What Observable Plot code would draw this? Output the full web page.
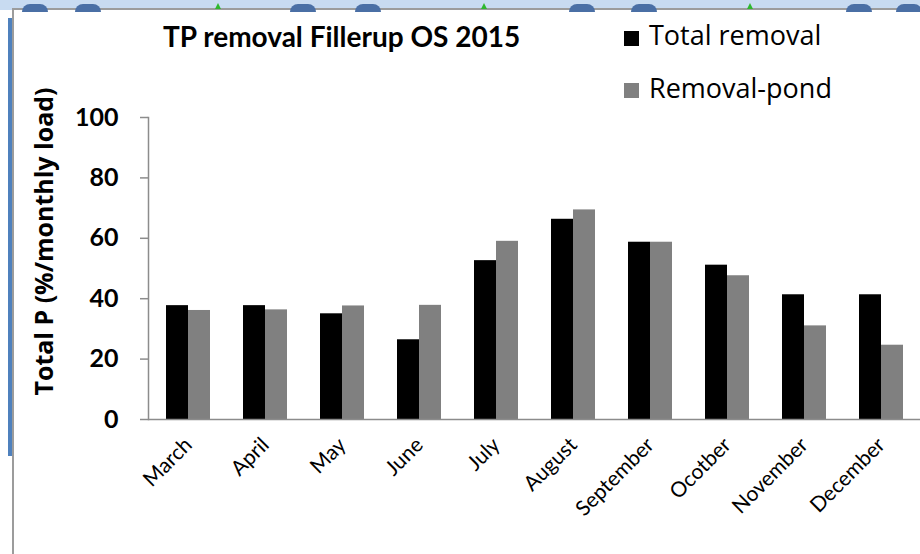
<!DOCTYPE html>
<html>
<head>
<meta charset="utf-8">
<script src="https://cdn.jsdelivr.net/npm/d3@7"></script>
<script src="https://cdn.jsdelivr.net/npm/@observablehq/plot@0.6"></script>
<style>
  html, body { margin: 0; padding: 0; background: #fff; }
  #wrap { position: relative; width: 920px; height: 554px; overflow: hidden; background: #fff; font-family: Lato, "Open Sans", sans-serif; }
  #chart { position: absolute; left: 0; top: 0; }
  .chrome-top { position: absolute; left: 0; top: 0; width: 920px; height: 8px; background: #c8dbf1; border-bottom: 2px solid #9c9c9c; }
  .chrome-left-blue { position: absolute; left: 0; top: 0; width: 12px; height: 10px; background: #c8dbf1; }
  .chrome-left-line { position: absolute; left: 12px; top: 8px; width: 2px; height: 546px; background: #9c9c9c; }
  .chrome-left-strip { position: absolute; left: 8px; top: 18px; width: 4px; height: 438px; background: #4f81bd; }
  .bump { position: absolute; top: 4px; width: 26px; height: 8px; border-radius: 13px 13px 0 0; background: #4a6fa5; }
  .tri { position: absolute; top: 3px; width: 0; height: 0; border-left: 3px solid transparent; border-right: 3px solid transparent; border-bottom: 6px solid #2eb82e; }
  .title { position: absolute; left: 163px; top: 22px; font-size: 28px; font-weight: bold; line-height: 1; color: #000; white-space: nowrap; font-family: Lato, sans-serif; }
  .leg { position: absolute; left: 624px; font-size: 27px; line-height: 1; color: #000; white-space: nowrap; font-family: "Open Sans", sans-serif; }
  .leg .sw { position: absolute; left: 0; width: 15px; height: 15px; }
  .leg span.t { position: absolute; left: 25px; top: 0; }
  .ylab { position: absolute; left: -157px; top: 229px; width: 400px; text-align: center; font-size: 25px; font-weight: bold; line-height: 1; transform: rotate(-90deg); transform-origin: 50% 50%; white-space: nowrap; font-family: "Open Sans", sans-serif; }
</style>
</head>
<body>
<div id="wrap">
  <div id="chart"></div>
  <div class="chrome-top"></div>
  <div class="chrome-left-blue"></div>
  <div class="chrome-left-line"></div>
  <div class="chrome-left-strip"></div>
  <div class="title">TP removal Fillerup OS 2015</div>
  <div class="leg" style="top:21px;"><div class="sw" style="top:10px;background:#000;"></div><span class="t">Total removal</span></div>
  <div class="leg" style="top:74px;"><div class="sw" style="top:9px;background:#808080;"></div><span class="t">Removal-pond</span></div>
  <div class="ylab">Total P (%/monthly load)</div>
</div>
<script>
// ---- data ----
const months = ["March", "April", "May", "June", "July", "August", "September", "Ocotber", "November", "December"];
const totalRemoval = [37.7, 37.7, 35.0, 26.4, 52.6, 66.3, 58.7, 51.1, 41.3, 41.3];
const removalPond = [36.1, 36.3, 37.6, 37.8, 59.0, 69.4, 58.7, 47.6, 31.0, 24.6];
const yTicks = [0, 20, 40, 60, 80, 100];
const seriesNames = ["Total removal", "Removal-pond"];
const seriesColors = ["#000000", "#808080"];

const rows = months.map((m, i) => ({month: m, total: totalRemoval[i], pond: removalPond[i]}));

// chrome bumps (screenshot decoration)
const wrap = document.getElementById("wrap");
[35, 88, 303, 368, 582, 644, 859, 909].forEach(x => {
  const b = document.createElement("div"); b.className = "bump"; b.style.left = (x - 13) + "px"; wrap.appendChild(b);
});
[218, 484, 750].forEach(x => {
  const t = document.createElement("div"); t.className = "tri"; t.style.left = (x - 3) + "px"; wrap.appendChild(t);
});

const W = 920, H = 554;
const mL = 148, mR = 0, mT = 117, mB = 135;
const padInner = 0.43, padOuter = 0.215;
const step = (W - mL - mR) / (months.length - padInner + 2 * padOuter);
const half = step * (1 - padInner) / 2;

const chart = Plot.plot({
  width: W,
  height: H,
  marginLeft: mL,
  marginRight: mR,
  marginTop: mT,
  marginBottom: mB,
  style: {fontFamily: "Lato, 'Open Sans', sans-serif", background: "transparent", overflow: "visible"},
  x: {domain: months, paddingInner: padInner, paddingOuter: padOuter, label: null},
  y: {domain: [0, 100], label: null},
  marks: [
    Plot.barY(rows, {x: "month", y: "total", fill: seriesColors[0], insetRight: half}),
    Plot.barY(rows, {x: "month", y: "pond", fill: seriesColors[1], insetLeft: half}),
    Plot.ruleY([0], {stroke: "#8c8c8c", strokeWidth: 1.5}),
    Plot.frame({anchor: "left", stroke: "#8c8c8c", strokeWidth: 1.5}),
    Plot.axisY({ticks: yTicks, tickSize: 8, tickPadding: 22, stroke: "#8c8c8c", strokeWidth: 1.5, fill: "#000", fontSize: 25, fontWeight: "bold", label: null}),
    Plot.axisX({tickSize: 0, tickPadding: 22, tickRotate: -45, fill: "#000", fontSize: 21, label: null})
  ]
});
document.getElementById("chart").appendChild(chart);
</script>
</body>
</html>
